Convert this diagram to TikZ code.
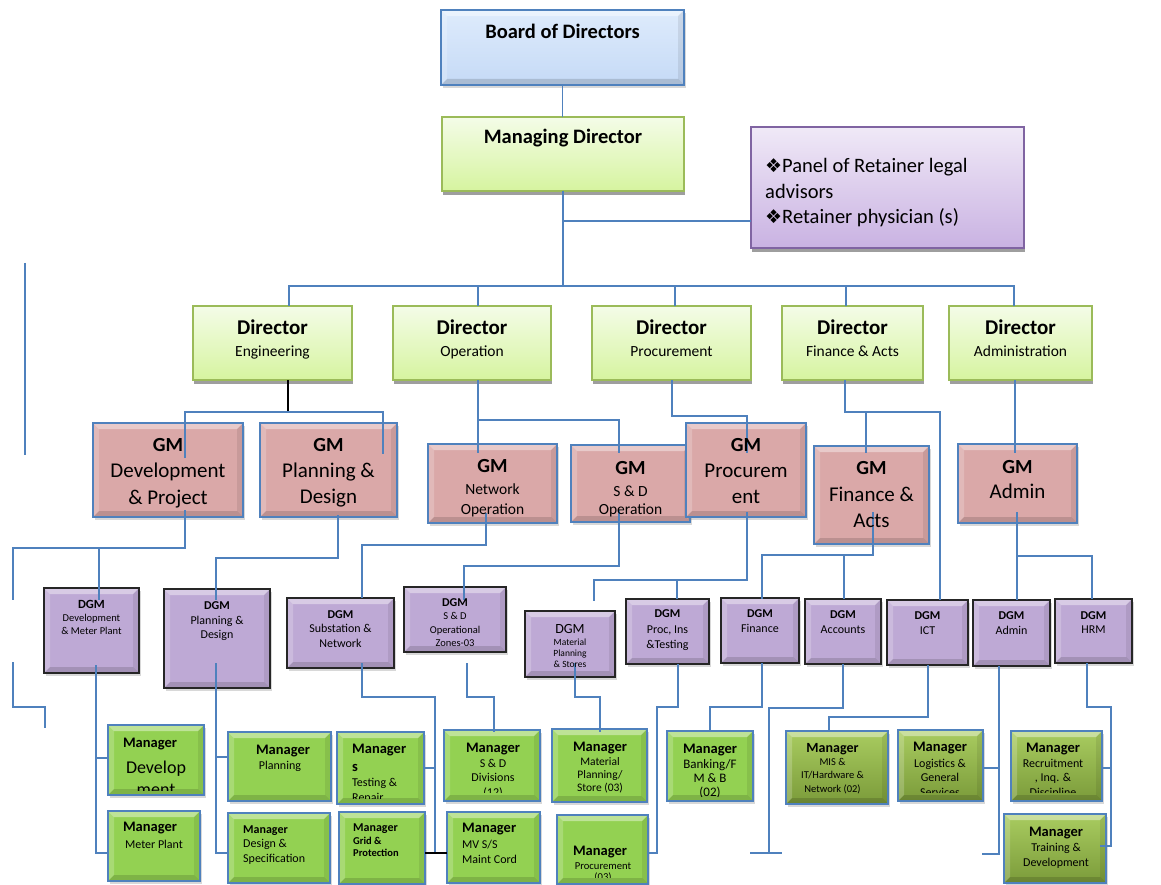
\documentclass[tikz,border=0pt]{standalone}
\usepackage{fontspec}
\setmainfont{Carlito}
\newfontfamily\symf{DejaVu Sans}
\usetikzlibrary{fit,shadows}
\newcommand\fsz[2]{\fontsize{#1}{#2}\selectfont}

\definecolor{wireblue}{HTML}{4F81BD}
\definecolor{brdT}{HTML}{DEEBFC}
\definecolor{brdB}{HTML}{C5DAF6}
\definecolor{dirT}{HTML}{F4FCE8}
\definecolor{dirB}{HTML}{D6F49F}
\definecolor{dirline}{HTML}{9BBB59}
\definecolor{panT}{HTML}{F0E9F7}
\definecolor{panB}{HTML}{C9B2E2}
\definecolor{panline}{HTML}{8064A2}
\definecolor{gmF}{HTML}{DAA8A8}
\definecolor{dgF}{HTML}{BEA9D5}
\definecolor{dgline}{HTML}{262626}
\definecolor{mgF}{HTML}{93D152}
\definecolor{mgdT}{HTML}{A9CC60}
\definecolor{mgdB}{HTML}{7B9B3A}

\tikzset{
  box/.style={inner sep=0pt, outer sep=0pt},
  bevel/.style={path picture={
    \fill[white,opacity=0.4]
      (path picture bounding box.north west) -- (path picture bounding box.north east)
      -- ([shift={(-6pt,-6pt)}]path picture bounding box.north east)
      -- ([shift={(6pt,-6pt)}]path picture bounding box.north west) -- cycle;
    \fill[white,opacity=0.2]
      (path picture bounding box.north west) -- ([shift={(6pt,-6pt)}]path picture bounding box.north west)
      -- ([shift={(6pt,6pt)}]path picture bounding box.south west) -- (path picture bounding box.south west) -- cycle;
    \fill[black,opacity=0.14]
      (path picture bounding box.south west) -- (path picture bounding box.south east)
      -- ([shift={(-6pt,6pt)}]path picture bounding box.south east)
      -- ([shift={(6pt,6pt)}]path picture bounding box.south west) -- cycle;
    \fill[black,opacity=0.08]
      (path picture bounding box.north east) -- ([shift={(-6pt,-6pt)}]path picture bounding box.north east)
      -- ([shift={(-6pt,6pt)}]path picture bounding box.south east) -- (path picture bounding box.south east) -- cycle;
  }},
  softshadow/.style={drop shadow={shadow xshift=2pt, shadow yshift=-3pt, opacity=0.3}},
  hardshadow/.style={drop shadow={shadow xshift=1pt, shadow yshift=-4pt, fill=black!38, opacity=1}},
  boardbox/.style={box, draw=wireblue, line width=1.8pt, top color=brdT, bottom color=brdB, bevel, softshadow},
  greenhead/.style={box, draw=dirline, line width=1.6pt, top color=dirT, bottom color=dirB, hardshadow},
  panelbox/.style={box, draw=panline, line width=1.8pt, top color=panT, bottom color=panB, hardshadow},
  gmbox/.style={box, draw=wireblue, line width=2pt, fill=gmF, bevel, softshadow},
  dgmbox/.style={box, draw=dgline, line width=2.2pt, fill=dgF, bevel, softshadow},
  mgrbox/.style={box, draw=wireblue, line width=1.8pt, fill=mgF, bevel, softshadow},
  mgrdark/.style={box, draw=wireblue, line width=1.8pt, top color=mgdT, bottom color=mgdB, bevel, softshadow},
  wire/.style={draw=wireblue, line width=1.8pt},
  blackwire/.style={draw=black, line width=1.8pt},
  % the base anchor of a multi-line text is the baseline of its last line
  tl/.style={inner sep=0pt, anchor=base, align=center},
  tlw/.style={inner sep=0pt, anchor=base west, align=left},
  dirtitle/.style={tl, font=\bfseries\fsz{21}{25}},
  dirsub/.style={tl, font=\fsz{15.5}{19}},
  gmtitle/.style={tl, font=\bfseries\fsz{20}{24}},
  dgtitle/.style={tl, font=\bfseries\fsz{12}{14}},
  mgtitle/.style={tl, font=\bfseries\fsz{14.5}{18}},
}

\begin{document}
\begin{tikzpicture}[x=1pt,y=-1pt]
\fill[white] (0,0) rectangle (1161,885);
\useasboundingbox (0,0) rectangle (1161,885);

% ---------- top level ----------
\node[boardbox, fit={(441,10)(684,85)}] (board) {};
\node[greenhead, fit={(442,117)(684,191)}] (md) {};
\node[panelbox, fit={(751,127)(1024,248)}] (panel) {};

% ---------- directors ----------
\node[greenhead, fit={(193,306)(352,380)}] (deng) {};
\node[greenhead, fit={(393,306)(551,380)}] (dop) {};
\node[greenhead, fit={(592,306)(751,380)}] (dproc) {};
\node[greenhead, fit={(782,306)(923,380)}] (dfin) {};
\node[greenhead, fit={(949,306)(1092,380)}] (dadm) {};

% ---------- general managers ----------
\node[gmbox, fit={(93,423)(243,517)}] (gmdev) {};
\node[gmbox, fit={(260,423)(397,517)}] (gmplan) {};
\node[gmbox, fit={(428,444)(557,523)}] (gmnet) {};
\node[gmbox, fit={(571,445)(690,522)}] (gmsd) {};
\node[gmbox, fit={(686,423)(806,517)}] (gmproc) {};
\node[gmbox, fit={(814,446)(929,544)}] (gmfin) {};
\node[gmbox, fit={(958,444)(1077,523)}] (gmadm) {};

% ---------- deputy general managers ----------
\node[dgmbox, fit={(44,588)(139,673)}] (dgdev) {};
\node[dgmbox, fit={(164,589)(270,688)}] (dgplan) {};
\node[dgmbox, fit={(287,598)(394,668)}] (dgsub) {};
\node[dgmbox, fit={(404,587)(506,652)}] (dgsd) {};
\node[dgmbox, fit={(525,611)(615,677)}] (dgmat) {};
\node[dgmbox, fit={(626,599)(709,664)}] (dgproc) {};
\node[dgmbox, fit={(721,598)(799,663)}] (dgfin) {};
\node[dgmbox, fit={(805,599)(881,664)}] (dgacc) {};
\node[dgmbox, fit={(887,600)(968,665)}] (dgict) {};
\node[dgmbox, fit={(973,600)(1050,666)}] (dgadm) {};
\node[dgmbox, fit={(1055,599)(1132,663)}] (dghrm) {};

% ---------- managers ----------
\node[mgrbox, fit={(108,725)(204,795)}] (mdev) {};
\node[mgrbox, fit={(108,811)(200,881)}] (mmeter) {};
\node[mgrbox, fit={(228,732)(331,801)}] (mplan) {};
\node[mgrbox, fit={(228,813)(330,883)}] (mdesign) {};
\node[mgrbox, fit={(337,732)(424,804)}] (mtest) {};
\node[mgrbox, fit={(339,812)(425,884)}] (mgrid) {};
\node[mgrbox, fit={(444,730)(540,801)}] (msdd) {};
\node[mgrbox, fit={(447,812)(540,883)}] (mmv) {};
\node[mgrbox, fit={(552,729)(647,802)}] (mmat) {};
\node[mgrbox, fit={(557,815)(648,884)}] (mproc) {};
\node[mgrbox, fit={(667,731)(753,801)}] (mbank) {};
\node[mgrdark, fit={(786,731)(888,804)}] (mmis) {};
\node[mgrdark, fit={(898,730)(983,801)}] (mlog) {};
\node[mgrdark, fit={(1011,731)(1102,801)}] (mrec) {};
\node[mgrdark, fit={(1004,814)(1106,883)}] (mtrain) {};

% ---------- connectors: top ----------
\coordinate (bus) at (562,286);
\draw[wire] (board.south) -- (board.south |- md.north);
\draw[wire] (md.south) -- (md.south |- bus);
\draw[wire] (md.south) |- ([yshift=-33.5pt]panel.west);
\draw[wire] ([xshift=16.5pt]deng.north) |- (bus) -| ([xshift=-6.5pt]dadm.north);
\draw[wire] ([xshift=6pt]dop.north) -- ++(0,-20);
\draw[wire] ([xshift=3.5pt]dproc.north) -- ++(0,-20);
\draw[wire] ([xshift=-6.5pt]dfin.north) -- ++(0,-20);

% ---------- connectors: directors to general managers ----------
\draw[blackwire] ([xshift=15.5pt]deng.south) -- ++(0,32) coordinate (engj);
\draw[wire] ([shift={(17pt,-35pt)}]gmdev.north) |- (engj) -| ([shift={(54.5pt,-31pt)}]gmplan.north);
\draw[wire] ([xshift=6pt]dop.south) -- ([shift={(-14.5pt,-9pt)}]gmnet.north);
\draw[wire] ([xshift=6pt]dop.south) ++(0,40) -| ([shift={(-11.5pt,-8pt)}]gmsd.north);
\draw[wire] ([xshift=0.5pt]dproc.south) -- ++(0,36) -| ([shift={(1pt,-30pt)}]gmproc.north);
\draw[wire] ([xshift=-7.5pt]dfin.south) -- ++(0,32) -| ([xshift=12.5pt]dgict.north);
\draw[wire] ([xshift=-7.5pt]dfin.south) ++(0,32) -| ([shift={(-5.5pt,-7pt)}]gmfin.north);
\draw[wire] ([xshift=-5.5pt]dadm.south) -- ([shift={(-2.5pt,-9pt)}]gmadm.north);

% ---------- connectors: general managers to deputies ----------
\coordinate (stubA) at (13,600);
\draw[wire] ([shift={(17pt,7pt)}]gmdev.south) -- ++(0,38) coordinate (gdj) -| ([shift={(7.5pt,-12pt)}]dgdev.north);
\draw[wire] (gdj) -| (stubA);
\draw[wire] ([shift={(9.5pt,2pt)}]gmplan.south) -- ++(0,43) -| ([shift={(-1pt,-11pt)}]dgplan.north);
\draw[wire] ([shift={(-6.5pt,10pt)}]gmnet.south) -- ++(0,32) -| ([xshift=21.5pt]dgsub.north);
\draw[wire] ([shift={(-11.5pt,12pt)}]gmsd.south) -- ++(0,56) -| ([shift={(9pt,-13pt)}]dgsd.north);
\draw[wire] ([shift={(1pt,5pt)}]gmproc.south) -- ++(0,68) coordinate (gpj) -| ([shift={(24pt,10pt)}]dgmat.north);
\draw[wire] (gpj) -| ([xshift=9.5pt]dgproc.north);
\draw[wire] ([shift={(1.5pt,32pt)}]gmfin.south) -- ++(0,43) coordinate (gfj) -| ([shift={(2pt,-1pt)}]dgfin.north);
\draw[wire] (gfj) -| ([xshift=1pt]dgacc.north);
\draw[wire] ([shift={(-0.5pt,11pt)}]gmadm.south) -- ([xshift=5.5pt]dgadm.north);
\draw[wire] ([shift={(-0.5pt,11pt)}]gmadm.south) ++(0,44) -| ([xshift=-1.5pt]dghrm.north);

% ---------- connectors: deputies to managers ----------
\draw[wire] ([shift={(4.5pt,8pt)}]dgdev.south) |- ([yshift=-7pt]mmeter.west);
\draw[wire] ([shift={(4.5pt,8pt)}]dgdev.south) |- ([yshift=2pt]mdev.west);
\draw[wire] ([shift={(-1pt,25pt)}]dgplan.south) |- ([yshift=-5pt]mdesign.west);
\draw[wire] ([shift={(-1pt,25pt)}]dgplan.south) |- ([yshift=9.5pt]mplan.west);
\draw[wire] ([shift={(21.5pt,5pt)}]dgsub.south) -- ++(0,34) -| ([shift={(10pt,-5pt)}]mgrid.east);
\draw[wire] (mtest.east) -- ++(11,0);
\draw[blackwire] ([yshift=-5pt]mgrid.east) -- ++(22,0);
\draw[wire] ([shift={(12pt,-11pt)}]dgsd.south) -- ++(0,34) -| ([shift={(2pt,-2pt)}]msdd.north);
\draw[wire] ([shift={(5pt,14pt)}]dgmat.south) -- ++(0,34) -| ([shift={(0.5pt,-3pt)}]mmat.north);
\draw[wire] ([xshift=10.5pt]dgproc.south) -- ++(0,43) -- ++(-21,0) |- ([yshift=-3.5pt]mproc.east);
\draw[wire] ([xshift=2pt]dgfin.south) -- ++(0,44) -| ([yshift=-1pt]mbank.north);
\coordinate (accEnd) at (769,853);
\draw[wire] (dgacc.south) -- ++(0,44) -| (accEnd);
\draw[wire] ([xshift=-19pt]accEnd) -- ++(32,0);
\draw[wire] ([xshift=0.5pt]dgict.south) -- ++(0,52) -| ([shift={(-8pt,-1pt)}]mmis.north);
\coordinate (admEnd) at (982,854);
\draw[wire] ([xshift=-12.5pt]dgadm.south) |- ([yshift=-2.5pt]mlog.east);
\draw[wire] ([xshift=-12.5pt]dgadm.south) |- (admEnd);
\draw[wire] ([xshift=-6.5pt]dghrm.south) -- ++(0,44) -- ++(24,0) |- ([shift={(-6pt,2.5pt)}]mtrain.east);
\draw[wire] ([xshift=-6.5pt]dghrm.south) ++(0,44) ++(24,0) |- ([yshift=-2pt]mrec.east);

% loose rule segments at the left margin
\coordinate (sA1) at (25,263);
\coordinate (sA2) at (25,455);
\draw[wire] (sA1) -- (sA2);
\coordinate (sB1) at (13,662);
\coordinate (sB2) at (45,728);
\draw[wire] (sB1) -- ++(0,45) -| (sB2);

% ---------- texts: top level ----------
\node[tl, font=\bfseries\fsz{20.5}{24}] (boardT) at (562.5,39) {Board of Directors};
\node[tl, font=\bfseries\fsz{20.5}{24}] (mdT) at (563,144) {Managing Director};
\node[tlw, font=\fsz{20.5}{25.5}] (panelT) at (765,224)
  {{\symf\fsz{19}{19}❖}Panel of Retainer legal\\advisors\\{\symf\fsz{19}{19}❖}Retainer physician (s)};

% ---------- texts: directors ----------
\node[dirtitle] (dengT) at (272.5,334) {Director};
\node[dirsub] (dengS) at (272.5,356) {Engineering};
\node[dirtitle] (dopT) at (472,334) {Director};
\node[dirsub] (dopS) at (472,356) {Operation};
\node[dirtitle] (dprocT) at (671.5,334) {Director};
\node[dirsub] (dprocS) at (671.5,356) {Procurement};
\node[dirtitle] (dfinT) at (852.5,334) {Director};
\node[dirsub] (dfinS) at (852.5,356) {Finance \& Acts};
\node[dirtitle] (dadmT) at (1020.5,334) {Director};
\node[dirsub] (dadmS) at (1020.5,356) {Administration};

% ---------- texts: general managers ----------
\node[gmtitle] (gmdevT) at (168,451) {GM};
\node[tl, font=\fsz{21}{26.5}] (gmdevS) at (168,504) {Development\\\& Project};
\node[gmtitle] (gmplanT) at (328.5,451) {GM};
\node[tl, font=\fsz{21}{26.5}] (gmplanS) at (328.5,503.5) {Planning \&\\Design};
\node[gmtitle] (gmnetT) at (492.5,472) {GM};
\node[tl, font=\fsz{15.5}{19.5}] (gmnetS) at (492.5,514) {Network\\Operation};
\node[gmtitle] (gmsdT) at (630.5,474) {GM};
\node[tl, font=\fsz{15.5}{18}] (gmsdS) at (630.5,514) {S \& D\\Operation};
\node[gmtitle] (gmprocT) at (746,451) {GM};
\node[tl, font=\fsz{21}{26}] (gmprocS) at (746,503) {Procurem\\ent};
\node[gmtitle] (gmfinT) at (871.5,474) {GM};
\node[tl, font=\fsz{21}{26}] (gmfinS) at (871.5,527) {Finance \&\\Acts};
\node[gmtitle] (gmadmT) at (1017.5,473) {GM};
\node[tl, font=\fsz{21}{26}] (gmadmS) at (1017.5,498) {Admin};

% ---------- texts: deputies ----------
\node[tl, font=\bfseries\fsz{12.5}{14}] (dgdevT) at (91.5,608) {DGM};
\node[tl, font=\fsz{10.5}{13}] (dgdevS) at (91.5,634) {Development\\\& Meter Plant};
\node[dgtitle] (dgplanT) at (217,609) {DGM};
\node[tl, font=\fsz{12}{14}] (dgplanS) at (217,638) {Planning \&\\Design};
\node[dgtitle] (dgsubT) at (340.5,618) {DGM};
\node[tl, font=\fsz{12}{15}] (dgsubS) at (340.5,647) {Substation \&\\Network};
\node[dgtitle] (dgsdT) at (455,606) {DGM};
\node[tl, font=\fsz{10.5}{13.5}] (dgsdS) at (455,646.5) {S \& D\\Operational\\Zones-03};
\node[tl, font=\fsz{14}{16}] (dgmatT) at (570,633.5) {DGM};
\node[tl, font=\fsz{9.5}{11}] (dgmatS) at (570,667) {Material\\Planning\\\& Stores};
\node[dgtitle] (dgprocT) at (667.5,617) {DGM};
\node[tl, font=\fsz{12}{15}] (dgprocS) at (667.5,648) {Proc, Ins\\\&Testing};
\node[dgtitle] (dgfinT) at (760,617) {DGM};
\node[tl, font=\fsz{12}{15}] (dgfinS) at (760,632) {Finance};
\node[dgtitle] (dgaccT) at (843,618) {DGM};
\node[tl, font=\fsz{12}{15}] (dgaccS) at (843,633) {Accounts};
\node[dgtitle] (dgictT) at (927.5,619) {DGM};
\node[tl, font=\fsz{12}{15}] (dgictS) at (927.5,634) {ICT};
\node[dgtitle] (dgadmT) at (1011.5,619) {DGM};
\node[tl, font=\fsz{12}{15}] (dgadmS) at (1011.5,634) {Admin};
\node[dgtitle] (dghrmT) at (1093.5,619) {DGM};
\node[tl, font=\fsz{12}{15}] (dghrmS) at (1093.5,633) {HRM};

% ---------- texts: managers ----------
\begin{scope}
  \clip (mdev.north west) rectangle ([yshift=5pt]mdev.south east);
  \node[mgtitle] (mdevT) at (150,747.5) {Manager};
  \node[tl, font=\fsz{18}{22}] (mdevS) at (156,795) {Develop\\ment};
\end{scope}
\node[mgtitle] (mmeterT) at (150,831.5) {Manager};
\node[tl, font=\fsz{12}{15}] (mmeterS) at (154,848) {Meter Plant};
\node[mgtitle] (mplanT) at (283,754.5) {Manager};
\node[tl, font=\fsz{12}{15}] (mplanS) at (280,769) {Planning};
\node[tlw, font=\bfseries\fsz{12}{14}] (mdesignT) at (243,833) {Manager};
\node[tlw, font=\fsz{12}{15}] (mdesignS) at (243,862) {Design \&\\Specification};
\begin{scope}
  \clip (mtest.north west) rectangle ([yshift=6pt]mtest.south east);
  \node[tlw, font=\bfseries\fsz{14.5}{18}] (mtestT) at (352,771.5) {Manager\\s};
  \node[tlw, font=\fsz{12}{15}] (mtestS) at (352,801) {Testing \&\\Repair};
\end{scope}
\node[tlw, font=\bfseries\fsz{12}{14}] (mgridT) at (353,831) {Manager};
\node[tlw, font=\bfseries\fsz{10.5}{12}] (mgridS) at (353,856.5) {Grid \&\\Protection};
\begin{scope}
  \clip (msdd.north west) rectangle ([yshift=9pt]msdd.south east);
  \node[mgtitle] (msddT) at (493,752.5) {Manager};
  \node[tl, font=\fsz{12}{14.5}] (msddS) at (493,796) {S \& D\\Divisions\\(12)};
\end{scope}
\node[tlw, font=\bfseries\fsz{14.5}{18}] (mmvT) at (462,832.5) {Manager};
\node[tlw, font=\fsz{12}{15}] (mmvS) at (462,863) {MV S/S\\Maint Cord};
\node[mgtitle] (mmatT) at (600,751.5) {Manager};
\node[tl, font=\fsz{11.5}{13}] (mmatS) at (600,791.5) {Material\\Planning/\\Store (03)};
\begin{scope}
  \clip (mproc.north west) rectangle ([yshift=7pt]mproc.south east);
  \node[mgtitle] (mprocT) at (600,855.5) {Manager};
  \node[tl, font=\fsz{10.6}{11}] (mprocS) at (603,880.5) {Procurement\\(03)};
\end{scope}
\begin{scope}
  \clip (mbank.north west) rectangle ([yshift=5pt]mbank.south east);
  \node[mgtitle] (mbankT) at (710,753.5) {Manager};
  \node[tl, font=\fsz{13}{14}] (mbankS) at (710,796) {Banking/F\\M \& B\\(02)};
\end{scope}
\node[tl, font=\bfseries\fsz{14}{17}] (mmisT) at (832.5,752) {Manager};
\node[tl, font=\fsz{10.5}{13.5}] (mmisS) at (832.5,792) {MIS \&\\IT/Hardware \&\\Network (02)};
\begin{scope}
  \clip (mlog.north west) rectangle ([yshift=9pt]mlog.south east);
  \node[mgtitle] (mlogT) at (940,751.5) {Manager};
  \node[tl, font=\fsz{12}{14.5}] (mlogS) at (940,796) {Logistics \&\\General\\Services};
\end{scope}
\begin{scope}
  \clip (mrec.north west) rectangle ([yshift=9pt]mrec.south east);
  \node[mgtitle] (mrecT) at (1053,752.5) {Manager};
  \node[tl, font=\fsz{12}{14.5}] (mrecS) at (1053,796) {Recruitment\\, Inq. \&\\Discipline};
\end{scope}
\node[mgtitle] (mtrainT) at (1056,836.5) {Manager};
\node[tl, font=\fsz{12}{15}] (mtrainS) at (1056,866) {Training \&\\Development};

\end{tikzpicture}
\end{document}
